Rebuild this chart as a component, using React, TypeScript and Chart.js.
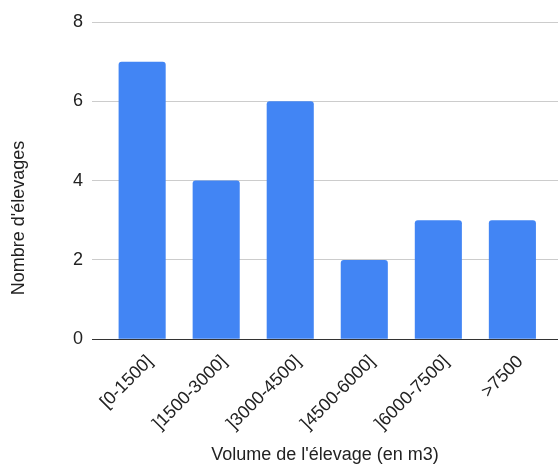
import React, { useEffect, useRef } from "react";
import { Chart, registerables } from "chart.js";

Chart.register(...registerables);

const categories = ["[0-1500]", "]1500-3000]", "]3000-4500]", "]4500-6000]", "]6000-7500]", ">7500"];
const counts = [7, 4, 6, 2, 3, 3];
const yMax = 8;
const yStep = 2;
const xTitle = "Volume de l'élevage (en m3)";
const yTitle = "Nombre d'élevages";

const FONT = "'Liberation Sans', Arial, sans-serif";

const yTitlePlugin = {
  id: "yTitleText",
  afterDraw(chart: any) {
    const ctx = chart.ctx;
    ctx.save();
    ctx.translate(19, 218);
    ctx.rotate(-Math.PI / 2);
    ctx.fillStyle = "#222";
    ctx.font = `18px ${FONT}`;
    ctx.textAlign = "center";
    ctx.textBaseline = "middle";
    ctx.fillText(yTitle, 0, 0);
    ctx.restore();
  },
};

export default function App() {
  const ref = useRef<HTMLCanvasElement | null>(null);
  useEffect(() => {
    if (!ref.current) return;
    const chart = new Chart(ref.current, {
      type: "bar",
      data: {
        datasets: [
          {
            data: counts.map((v, i) => ({ x: i, y: v })),
            backgroundColor: "#4285F4",
            borderRadius: { topLeft: 3, topRight: 3, bottomLeft: 0, bottomRight: 0 },
            borderSkipped: false,
            barPercentage: 0.636,
            categoryPercentage: 1,
          },
        ],
      },
      options: {
        animation: false,
        responsive: false,
        maintainAspectRatio: false,
        layout: { padding: { top: 22, right: 0, bottom: 0, left: 64 } },
        plugins: { legend: { display: false }, tooltip: { enabled: false } },
        scales: {
          x: {
            type: "linear",
            offset: false,
            min: -0.677,
            max: 5.616,
            grid: { display: false },
            border: { display: false },
            ticks: {
              stepSize: 1,
              includeBounds: false,
              autoSkip: false,
              maxRotation: 45,
              minRotation: 45,
              padding: 4,
              labelOffset: 8,
              color: "#222",
              font: { family: FONT, size: 18 },
              callback: (v: any) => (Number.isInteger(v) && v >= 0 && v < categories.length ? categories[v] : ""),
            },
            title: {
              display: true,
              text: xTitle,
              color: "#222",
              font: { family: FONT, size: 18 },
              padding: { top: 6, bottom: 0 },
            },
          },
          y: {
            min: 0,
            max: yMax,
            grid: {
              drawTicks: false,
              color: (ctx: any) => (ctx.tick && ctx.tick.value === 0 ? "#333" : "#ccc"),
              lineWidth: 1,
            },
            border: { display: false },
            ticks: {
              stepSize: yStep,
              padding: 9,
              color: "#222",
              font: { family: FONT, size: 18 },
            },
            title: { display: false },
          },
        },
      },
      plugins: [yTitlePlugin],
    });
    return () => chart.destroy();
  }, []);
  return (
    <div style={{ position: "fixed", left: 0, top: 0, width: 558, height: 466, background: "#fff" }}>
      <canvas ref={ref} width={558} height={466} style={{ width: 558, height: 466 }} />
    </div>
  );
}
